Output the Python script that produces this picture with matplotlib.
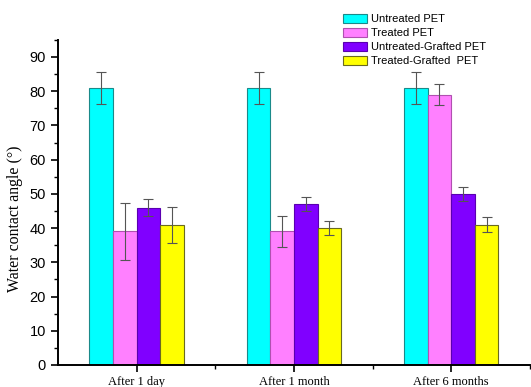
import numpy as np
import matplotlib
matplotlib.use("Agg")
import matplotlib.pyplot as plt
from matplotlib.ticker import MultipleLocator, FixedLocator

plt.rcParams['font.family'] = ['Liberation Sans', 'DejaVu Sans']

# Data
categories = ["After 1 day", "After 1 month", "After 6 months"]
series = ["Untreated PET", "Treated PET", "Untreated-Grafted PET", "Treated-Grafted  PET"]
untreated = [81, 81, 81]
untreated_err = [4.6, 4.6, 4.6]
treated = [39, 39, 79]
treated_err = [8.4, 4.5, 3.0]
untreated_grafted = [46, 47, 50]
untreated_grafted_err = [2.4, 2.0, 2.0]
treated_grafted = [41, 40, 41]
treated_grafted_err = [5.3, 2.1, 2.2]

values = [untreated, treated, untreated_grafted, treated_grafted]
errors = [untreated_err, treated_err, untreated_grafted_err, treated_grafted_err]
colors = ["#00FFFF", "#FF80FF", "#8000FF", "#FFFF00"]
edges = ["#1a8a8a", "#b050b0", "#5a00b0", "#6a6a20"]

fig = plt.figure(figsize=(5.31, 3.87), dpi=100)
ax = fig.add_axes([0.109, 0.057, 0.889, 0.84])

x = np.arange(len(categories))
w = 0.15
for i in range(4):
    ax.bar(x + (i - 1.5) * w, values[i], w, color=colors[i], edgecolor=edges[i],
           linewidth=0.8, label=series[i], zorder=2)
    ax.errorbar(x + (i - 1.5) * w, values[i], yerr=errors[i], fmt="none",
                ecolor="#555555", elinewidth=0.8, capsize=3.5, capthick=0.8, zorder=3)

ax.set_xlim(-0.5, 2.5)
ax.set_ylim(0, 95)
ax.set_xticks(x)
ax.set_xticklabels(categories, family="Liberation Serif", fontsize=9)
ax.xaxis.set_minor_locator(FixedLocator([0.5, 1.5, 2.5]))
ax.yaxis.set_major_locator(MultipleLocator(10))
ax.yaxis.set_minor_locator(MultipleLocator(5))
ax.tick_params(axis="y", labelsize=10.5, length=5, width=1.2, direction="out")
ax.tick_params(axis="y", which="minor", length=3, width=1)
ax.tick_params(axis="x", length=5, width=1.2, direction="out", pad=3)
ax.tick_params(axis="x", which="minor", length=3, width=1)

ax.spines['top'].set_visible(False)
ax.spines['right'].set_visible(False)
ax.spines['left'].set_linewidth(1.4)
ax.spines['bottom'].set_linewidth(1.4)

ax.set_ylabel("Water contact angle (°)", family="Liberation Serif", fontsize=11.4)
ax.yaxis.set_label_coords(-0.074, 0.45)

fig.legend(loc="upper left", bbox_to_anchor=(0.637, 0.975), fontsize=8, frameon=False,
           handlelength=2.2, handleheight=0.8, handletextpad=0.35, labelspacing=0.35,
           borderaxespad=0)

fig.savefig("out.png", dpi=100)
